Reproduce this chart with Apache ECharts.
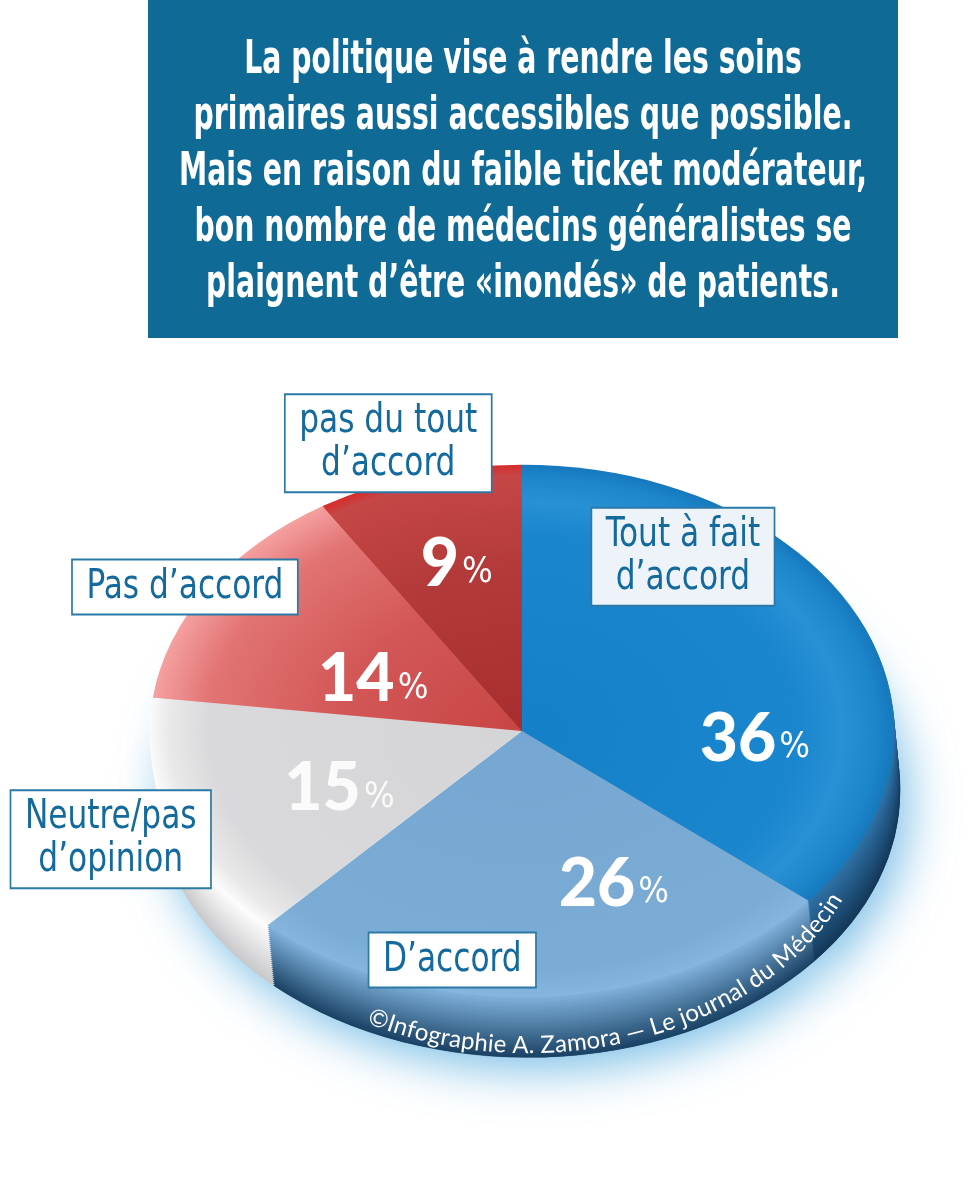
<!DOCTYPE html>
<html>
<head>
<meta charset="utf-8">
<script src="https://cdn.jsdelivr.net/npm/echarts@6/dist/echarts.min.js"></script>
<style>
  html, body { margin: 0; background: #fff; }
  #chart { width: 967px; height: 1200px; }
</style>
</head>
<body>
<div id="chart"></div>
<script>
// données du sondage (sens horaire, à partir de midi)
const categories = ['Tout à fait\nd’accord', 'D’accord', 'Neutre/pas\nd’opinion', 'Pas d’accord', 'pas du tout\nd’accord'];
const shares = [36, 26, 15, 14, 9];
const titleLines = [
  'La politique vise à rendre les soins',
  'primaires aussi accessibles que possible.',
  'Mais en raison du faible ticket modérateur,',
  'bon nombre de médecins généralistes se',
  'plaignent d’être «inondés» de patients.'
];
const credit = '©Infographie A. Zamora — Le journal du Médecin';

// géométrie du disque incliné
const CX = 522, CY = 731, R = 372, SQ = 0.716;
const RIM_DX = 6, RIM_DY = 60, RIM_STEPS = 30;

const BLUE_TXT = '#146a9c';
const NARROW = '"Liberation Sans Narrow", "DejaVu Sans Condensed", sans-serif';
const radial = stops => ({
  type: 'radial', x: 0, y: 0, r: R, global: true,
  colorStops: stops.map(s => ({offset: s[0], color: s[1]}))
});
const topFill = [
  radial([[0, '#1480c8'], [0.74, '#1a86cd'], [0.86, '#2890d5'], [0.95, '#1d86cb'], [1, '#1678bd']]),
  radial([[0, '#75a7d2'], [0.9, '#7aacd6'], [1, '#86b6de']]),
  radial([[0, '#d5d5d7'], [0.84, '#d9d9db'], [0.95, '#e9e9ea'], [1, '#fafafa']]),
  radial([[0, '#c84545'], [0.5, '#d35757'], [0.85, '#e27474'], [1, '#f5a0a0']]),
  radial([[0, '#a72e2e'], [0.6, '#b33a3a'], [0.96, '#c64646'], [1, '#d82a2a']])
];
// couleur du bord : [haut, bas]
const rimFill = [
  ['#2f73a8', '#143859'],
  ['#80b2dc', '#1b4366'],
  ['#ffffff', '#c9c9cb'],
  ['#f6c4c4', '#e49a9a'],
  ['#b03030', '#802020']
];
// placement des étiquettes : [décalage d'angle / milieu de la part (deg), rayon relatif]
const pctLayout = [[28.3, 0.627], [-19.5, 0.629], [-4.2, 0.537], [-6.9, 0.443], [0.5, 0.647]];
const boxLayout = [[-31.3, 0.784], [15.9, 0.88], [-0.4, 1.178], [-1.6, 1.055], [-2.2, 1.139]];
const boxBg = ['#eef3f9', '#ffffff', '#ffffff', '#ffffff', '#ffffff'];
const pctColor = ['#fff', '#fff', 'rgba(255,255,255,0.88)', '#fff', '#fff'];

const total = shares.reduce((a, b) => a + b, 0);
function sliceAngles(i, v) {
  let before = 0;
  for (let k = 0; k < i; k++) before += shares[k];
  const a0 = -Math.PI / 2 + before / total * Math.PI * 2;
  return [a0, a0 + v / total * Math.PI * 2];
}
function polarPos(midDeg, shift, rf) {
  const a = (midDeg + shift) * Math.PI / 180;
  return [CX + rf * R * Math.sin(a), CY - rf * R * SQ * Math.cos(a)];
}
function hex(c) { return [1, 3, 5].map(k => parseInt(c.slice(k, k + 2), 16)); }
function mix(c0, c1, t) {
  const a = hex(c0), b = hex(c1);
  return 'rgb(' + a.map((x, k) => Math.round(x + (b[k] - x) * t)).join(',') + ')';
}
function disc(dx, dy, a0, a1, style, z2) {
  return {
    type: 'group', x: CX + dx, y: CY + dy, scaleY: SQ,
    children: [{
      type: 'sector', z2: z2 || 0,
      shape: {cx: 0, cy: 0, r: R, r0: 0, startAngle: a0, endAngle: a1, clockwise: true},
      style: style
    }]
  };
}

// largeur de police condensée calée sur la référence
const ctx = document.createElement('canvas').getContext('2d');
const LABEL_FONT = '41px ' + NARROW;
ctx.font = LABEL_FONT;
const labelScale = Math.min(1, 197 / ctx.measureText('Pas d’accord').width);

const seriesData = shares.map((v, i) => ({name: categories[i], value: v}));

// lueur bleue sous le disque
function renderGlow(params, api) {
  const [a0, a1] = sliceAngles(params.dataIndex, api.value(0));
  return disc(RIM_DX, RIM_DY, a0, a1, {
    fill: rimFill[params.dataIndex][1],
    shadowBlur: 48, shadowColor: 'rgba(40,150,215,0.62)', shadowOffsetX: 8, shadowOffsetY: 12
  });
}
// épaisseur du disque (les couches proches du dessus passent devant)
function renderRim(params, api) {
  const i = params.dataIndex;
  const [a0, a1] = sliceAngles(i, api.value(0));
  const children = [];
  for (let s = RIM_STEPS; s >= 1; s--) {
    const t = s / RIM_STEPS;
    const c = mix(rimFill[i][0], rimFill[i][1], t);
    children.push(disc(RIM_DX * t, RIM_DY * t, a0, a1, {fill: c, stroke: c, lineWidth: 0.6}, RIM_STEPS - s));
  }
  return {type: 'group', children: children};
}
// face supérieure + étiquettes
function renderTop(params, api) {
  const i = params.dataIndex;
  const v = api.value(0);
  const [a0, a1] = sliceAngles(i, v);
  const mid = ((a0 + a1) / 2 + Math.PI / 2) * 180 / Math.PI;
  const p = polarPos(mid, pctLayout[i][0], pctLayout[i][1]);
  const b = polarPos(mid, boxLayout[i][0], boxLayout[i][1]);
  return {
    type: 'group',
    children: [
      disc(0, 0, a0, a1, {fill: topFill[i], stroke: null}),
      {
        type: 'text', x: p[0], y: p[1], z2: 50,
        style: {
          text: '{n|' + v + '}{p|%}',
          align: 'center', verticalAlign: 'middle',
          rich: {
            n: {fontSize: 66, fontWeight: 900, fontFamily: 'Lato', fill: pctColor[i], verticalAlign: 'bottom'},
            p: {fontSize: 36, fontFamily: NARROW, fill: pctColor[i], verticalAlign: 'bottom', padding: [0, 0, 7, 3]}
          }
        }
      },
      {
        type: 'text', x: b[0], y: b[1], z2: 100, scaleX: labelScale,
        style: {
          text: categories[i], font: LABEL_FONT,
          fill: BLUE_TXT, align: 'center', verticalAlign: 'middle', lineHeight: 43,
          backgroundColor: boxBg[i], borderColor: '#2a79a6', borderWidth: 2,
          padding: [6, 16, 4, 16]
        }
      }
    ]
  };
}

// texte courbe du crédit le long du bord
const CREDIT_FONT = '24px Lato';
ctx.font = CREDIT_FONT;
const TX = CX + RIM_DX, TY = CY + RIM_DY, TRX = R - 34, TRY = R * SQ - 12;
const creditEls = [];
const speed = t => Math.hypot(TRX * Math.sin(t), TRY * Math.cos(t));
let th = 118 * Math.PI / 180;
for (const ch of credit) {
  const w = ctx.measureText(ch).width;
  th -= (w / 2) / speed(th);
  const x = TX + TRX * Math.cos(th), y = TY + TRY * Math.sin(th);
  const rot = -Math.atan2(-TRY * Math.cos(th), TRX * Math.sin(th));
  creditEls.push({
    type: 'text', x: x, y: y, rotation: rot, z: 10,
    style: {text: ch, font: CREDIT_FONT, fill: '#ffffff', align: 'center', verticalAlign: 'middle'}
  });
  th -= (w / 2) / speed(th);
}

// titre : police condensée ajustée à la largeur du cadre
const TITLE_FONT = 'bold 47px ' + NARROW;
ctx.font = TITLE_FONT;
const widest = Math.max(...titleLines.map(l => ctx.measureText(l).width));
const titleScale = 688 / widest;

const chart = echarts.init(document.getElementById('chart'));
chart.setOption({
  animation: false,
  graphic: [
    {type: 'rect', shape: {x: 148, y: 0, width: 750, height: 338}, style: {fill: '#0f6b96'}, z: 5},
    {
      type: 'text', x: 523, y: 173, scaleX: titleScale, z: 6,
      style: {
        text: titleLines.join('\n'), font: TITLE_FONT, fill: '#ffffff',
        align: 'center', verticalAlign: 'middle', lineHeight: 56
      }
    }
  ].concat(creditEls),
  series: [
    {type: 'custom', coordinateSystem: 'none', z: 0, silent: true, renderItem: renderGlow, data: seriesData},
    {type: 'custom', coordinateSystem: 'none', z: 1, silent: true, renderItem: renderRim, data: seriesData},
    {type: 'custom', coordinateSystem: 'none', z: 2, silent: true, renderItem: renderTop, data: seriesData}
  ]
});
</script>
</body>
</html>
